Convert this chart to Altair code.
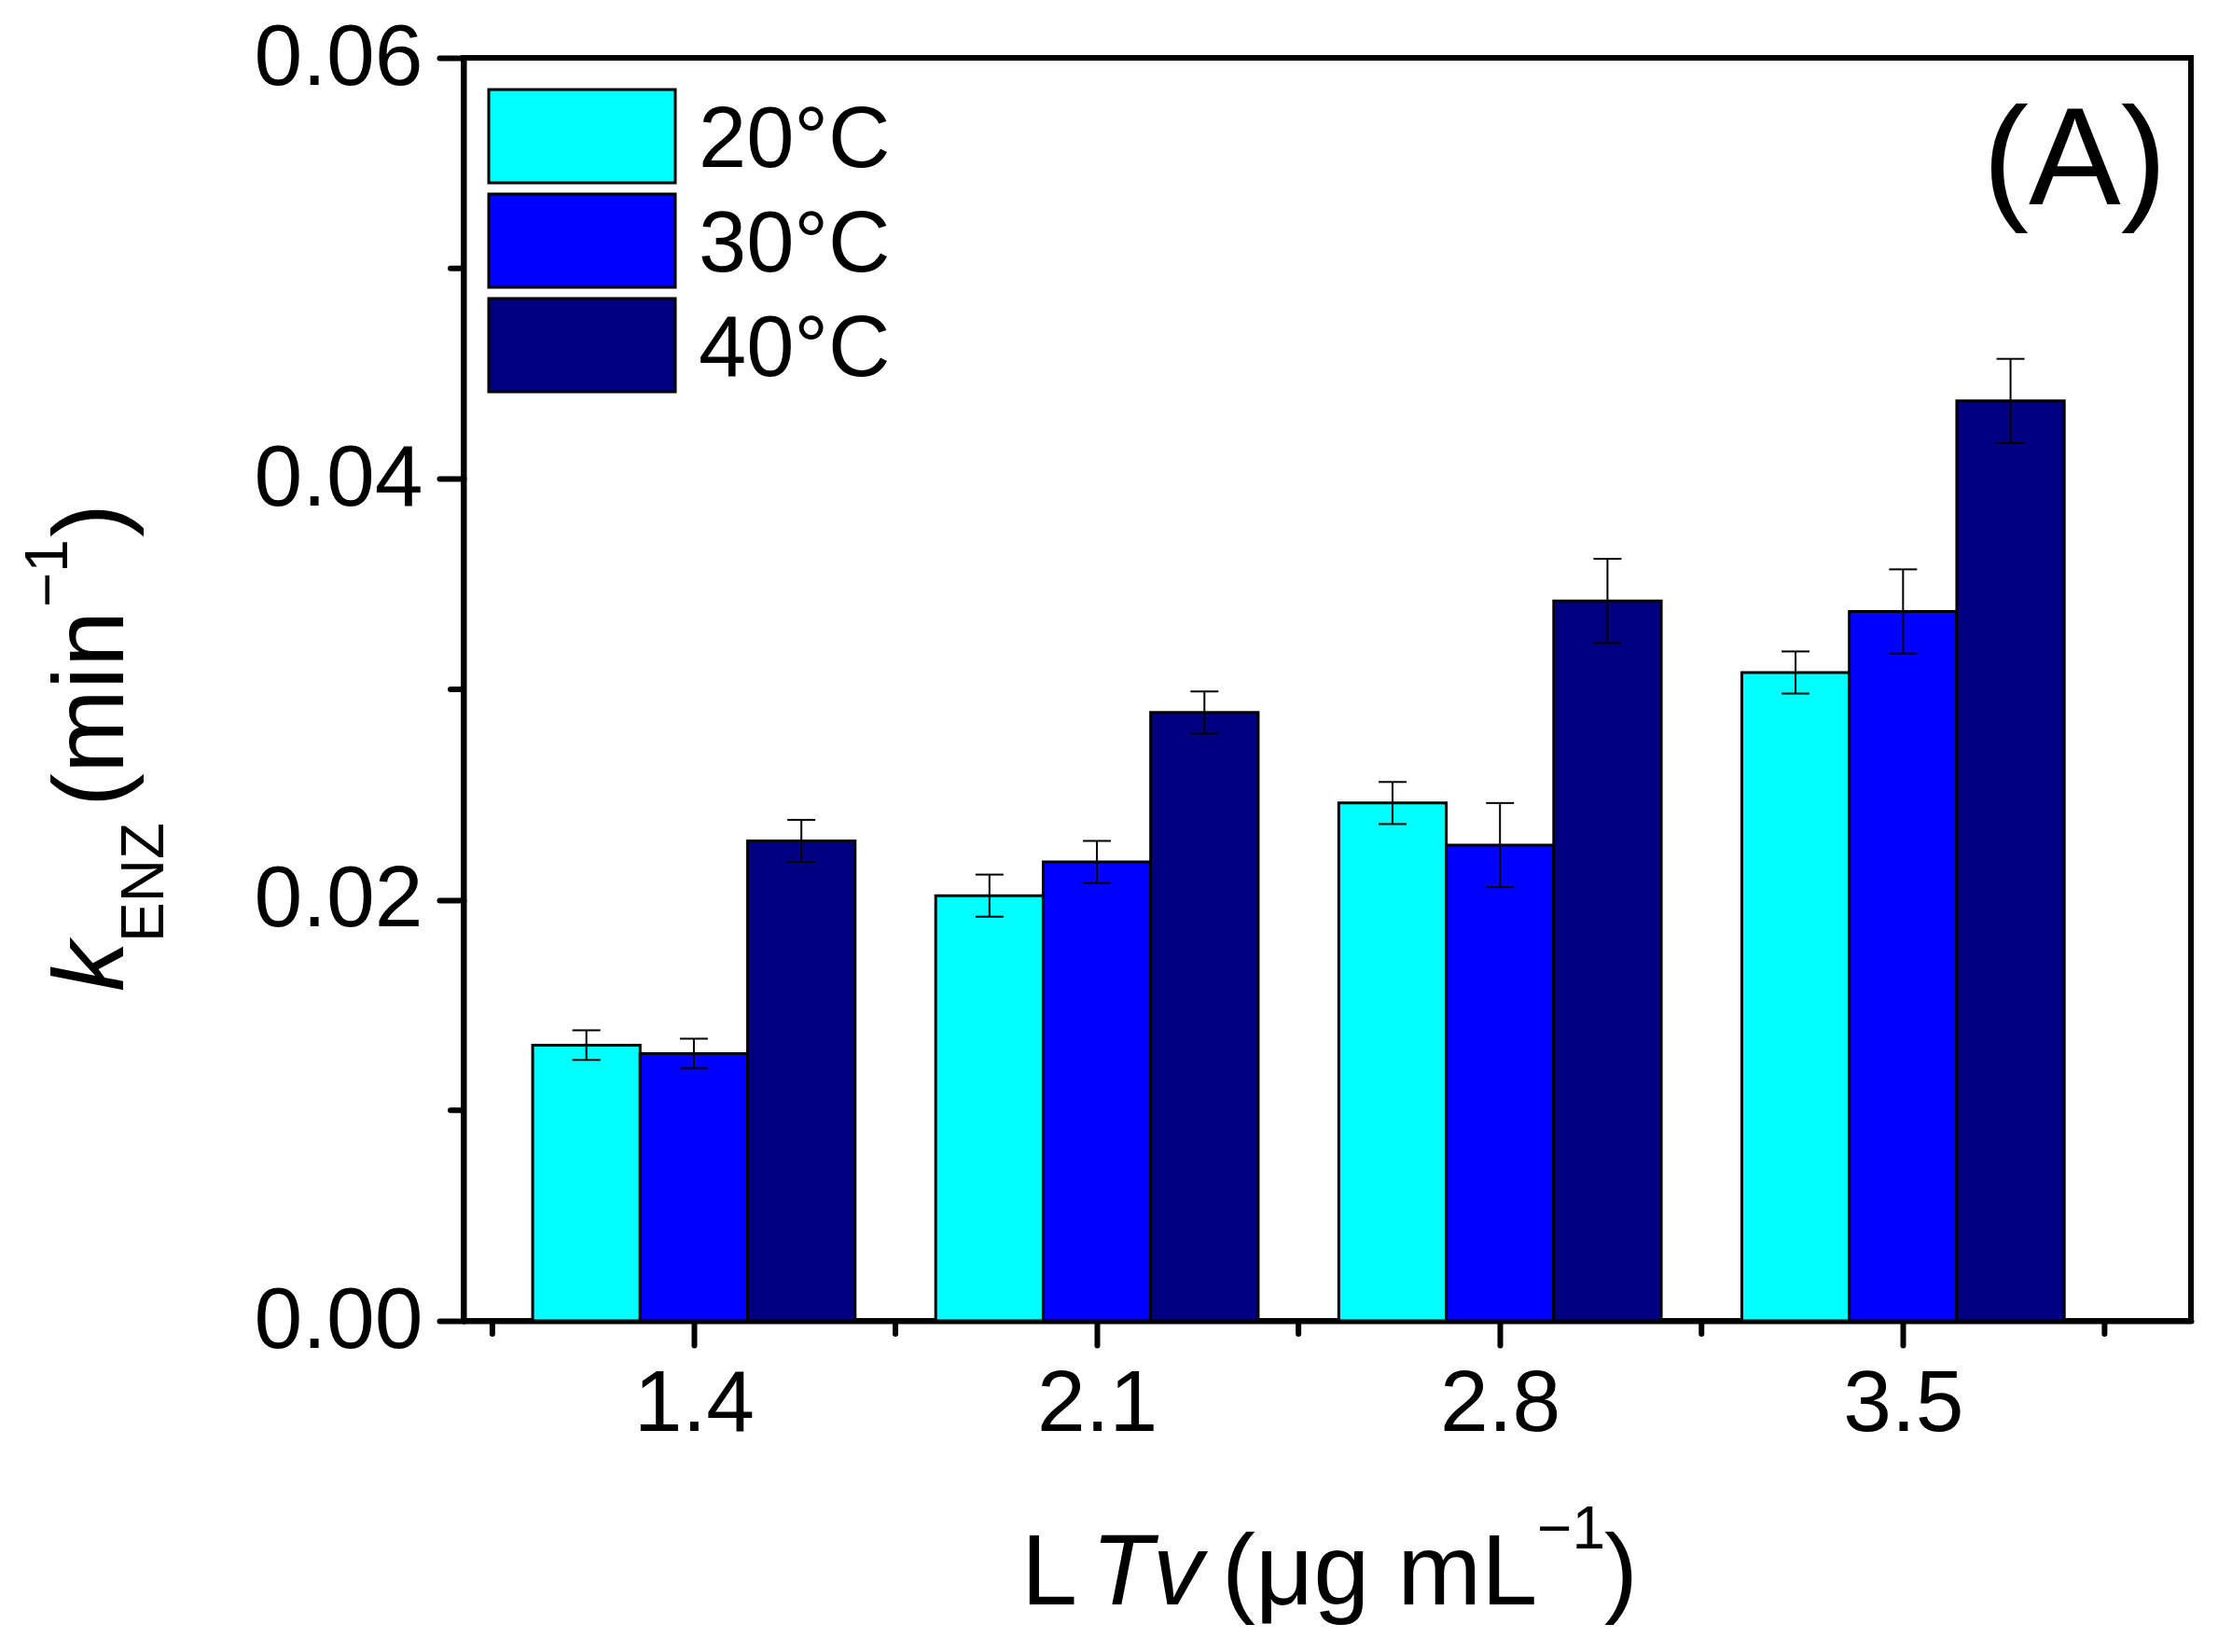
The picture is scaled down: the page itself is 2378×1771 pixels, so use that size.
import altair as alt
import pandas as pd

# ---- data ----
conc = [1.4, 2.1, 2.8, 3.5]
temps = ["20°C", "30°C", "40°C"]
colors = ["#00FFFF", "#0000FF", "#000080"]
k20 = [0.0131, 0.0202, 0.0246, 0.0308]
k30 = [0.0127, 0.0218, 0.0226, 0.0337]
k40 = [0.0228, 0.0289, 0.0342, 0.0437]
e20 = [0.0007, 0.0010, 0.0010, 0.0010]
e30 = [0.0007, 0.0010, 0.0020, 0.0020]
e40 = [0.0010, 0.0010, 0.0020, 0.0020]
x_ticks = [1.4, 2.1, 2.8, 3.5]
x_minor = [1.05, 1.75, 2.45, 3.15, 3.85]
y_ticks = [0.0, 0.02, 0.04, 0.06]
y_minor = [0.01, 0.03, 0.05]

rows = []
for ti, (t, ks, es) in enumerate(zip(temps, [k20, k30, k40], [e20, e30, e40])):
    for c, k, e in zip(conc, ks, es):
        rows.append({"conc": c, "temp": t, "idx": ti, "k": k, "err": e})
df = pd.DataFrame(rows)

W, H = 1852, 1354
FONT = "Liberation Sans"
BW = 0.7 * 0.8 / 3  # bar width in data units

xscale = alt.Scale(domain=[1.0, 4.0], nice=False, zero=False)
yscale = alt.Scale(domain=[0, 0.06], nice=False, zero=True)
xaxis = alt.Axis(values=x_ticks, format=".1f", title=None, grid=False)
yaxis = alt.Axis(values=y_ticks, format=".2f", title=None, grid=False)
cscale = alt.Scale(domain=temps, range=colors)

base = alt.Chart(df).transform_calculate(
    xc=f"datum.conc + (datum.idx - 1) * {BW}",
    x0=f"datum.conc + (datum.idx - 1.5) * {BW}",
    x1=f"datum.conc + (datum.idx - 0.5) * {BW}",
    lo="datum.k - datum.err",
    hi="datum.k + datum.err",
)

bars = base.mark_bar(stroke="black", strokeWidth=3, opacity=1).encode(
    x=alt.X("x0:Q", scale=xscale, axis=xaxis),
    x2="x1:Q",
    y=alt.Y("k:Q", scale=yscale, axis=yaxis),
    y2=alt.datum(0),
    color=alt.Color("temp:N", scale=cscale, legend=None),
)
err = base.mark_rule(color="black", strokeWidth=2).encode(
    x=alt.X("xc:Q", scale=xscale, axis=xaxis),
    y=alt.Y("lo:Q", scale=yscale, axis=yaxis),
    y2="hi:Q",
)
cap_hi = base.mark_tick(orient="horizontal", size=30, thickness=2, color="black", opacity=1).encode(
    x=alt.X("xc:Q", scale=xscale, axis=xaxis),
    y=alt.Y("hi:Q", scale=yscale, axis=yaxis),
)
cap_lo = base.mark_tick(orient="horizontal", size=30, thickness=2, color="black", opacity=1).encode(
    x=alt.X("xc:Q", scale=xscale, axis=xaxis),
    y=alt.Y("lo:Q", scale=yscale, axis=yaxis),
)

ym = alt.Chart(pd.DataFrame({"ym": y_minor})).mark_rule(
    color="black", strokeWidth=6, strokeCap="round"
).encode(
    y=alt.Y("ym:Q", scale=yscale, axis=yaxis),
    x=alt.value(-14),
    x2=alt.value(0),
)
xm = alt.Chart(pd.DataFrame({"xm": x_minor})).mark_rule(
    color="black", strokeWidth=6, strokeCap="round"
).encode(
    x=alt.X("xm:Q", scale=xscale, axis=xaxis),
    y=alt.value(H),
    y2=alt.value(H + 14),
)


def txt(s, x, y, size, angle=0, style="normal", align="left", baseline="alphabetic"):
    return alt.Chart(pd.DataFrame({"s": [s]})).mark_text(
        align=align, baseline=baseline, angle=angle, fontSize=size,
        font=FONT, fontStyle=style, color="black",
    ).encode(text="s:N", x=alt.value(x), y=alt.value(y))


# y title: k_ENZ (min^-1), rotated
ytitle = [
    txt("k", -365, 1001, 108, angle=270, style="italic"),
    txt("ENZ", -322, 948, 64, angle=270),
    txt("(min", -365, 803, 108, angle=270),
    txt("\u22121", -425, 589, 64, angle=270),
    txt(")", -365, 514, 108, angle=270),
]
# x title: LTv (μg mL^-1)
xtitle = [
    txt("L", 598, 1658, 108),
    txt("Tv", 673, 1658, 108, style="italic"),
    txt("(μg mL", 813, 1658, 108),
    txt("\u22121", 1151, 1598, 64),
    txt(")", 1223, 1658, 108),
]
panel = txt("(A)", 1826, 157, 148, align="right")

main = alt.layer(bars, err, cap_hi, cap_lo, ym, xm, *ytitle, *xtitle, panel)

# manual legend
leg_df = pd.DataFrame({"temp": temps})
legy = alt.Scale(type="band", domain=temps, range=[34, 358], paddingInner=0.107, paddingOuter=0)
leg_rect = alt.Chart(leg_df).mark_rect(stroke="black", strokeWidth=3).encode(
    x=alt.value(27), x2=alt.value(227),
    y=alt.Y("temp:N", scale=legy, axis=None),
    color=alt.Color("temp:N", scale=cscale, legend=None),
)
leg_text = alt.Chart(leg_df).mark_text(
    align="left", baseline="middle", dy=5, fontSize=92, font=FONT, color="black"
).encode(
    x=alt.value(252),
    y=alt.Y("temp:N", scale=legy, axis=None, bandPosition=0.5),
    text="temp:N",
)
legend = alt.layer(leg_rect, leg_text)

chart = alt.layer(main, legend).resolve_scale(y="independent").properties(
    width=W, height=H,
    padding={"left": 489, "top": 54, "right": 10, "bottom": 340},
    autosize=alt.AutoSizeParams(type="none"),
    background="white",
).configure_view(
    stroke="black", strokeWidth=6
).configure_axis(
    domainColor="black", domainWidth=6, domainCap="round",
    tickColor="black", tickWidth=6, tickSize=26, tickCap="round",
    labelFont=FONT, labelFontSize=93, labelColor="black", labelPadding=18,
    labelLimit=600, grid=False,
)

chart.save("out.html", embed_options={"renderer": "svg", "actions": False})
